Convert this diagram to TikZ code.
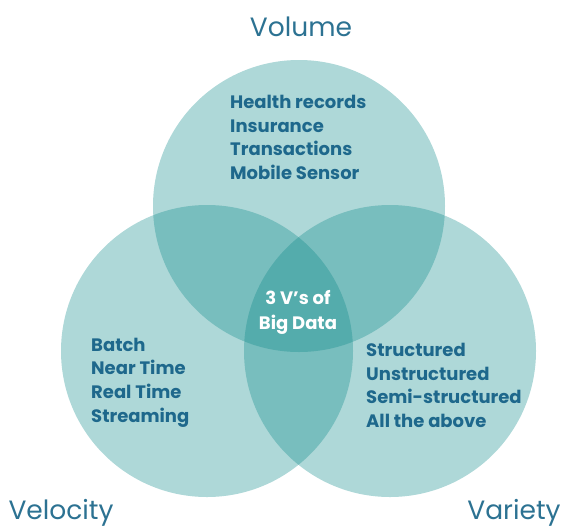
\documentclass[tikz,border=0pt]{standalone}
\usepackage{fontspec}
\setmainfont{Poppins}
\begin{document}
\begin{tikzpicture}[x=1pt,y=-1pt]
\useasboundingbox (0,0) rectangle (562,528);
\definecolor{circ}{RGB}{10,136,136}
\definecolor{txt}{RGB}{30,104,140}
\definecolor{ttl}{RGB}{44,114,146}
\tikzset{
  vcircle/.style={fill=circ, fill opacity=0.33, draw=none},
  listtext/.style={inner sep=0pt, align=left, text=txt, font=\fontsize{18}{23.7}\selectfont\bfseries},
  centertext/.style={inner sep=0pt, align=center, text=white, font=\fontsize{18}{24.5}\selectfont\bfseries},
  title/.style={inner sep=0pt, text=ttl, font=\fontsize{26.5}{30}\selectfont}
}
\fill[vcircle] (299,206) circle[radius=146];
\fill[vcircle] (207,351) circle[radius=146];
\fill[vcircle] (390,351) circle[radius=146];
\node[title] (volume) at (301,27) {Volume};
\node[title] (velocity) at (61,513) {Velocity};
\node[title] (variety) at (514,513) {Variety};
\node[listtext, anchor=west] (vollist) at (230,137.5) {Health records\\Insurance\\Transactions\\Mobile Sensor};
\node[listtext, anchor=west] (vellist) at (91,382.5) {Batch\\Near Time\\Real Time\\Streaming};
\node[listtext, anchor=west] (varlist) at (366,385.5) {Structured\\Unstructured\\Semi-structured\\All the above};
\node[centertext] (center) at (298,312.5) {3 V’s of\\Big Data};
\end{tikzpicture}
\end{document}
